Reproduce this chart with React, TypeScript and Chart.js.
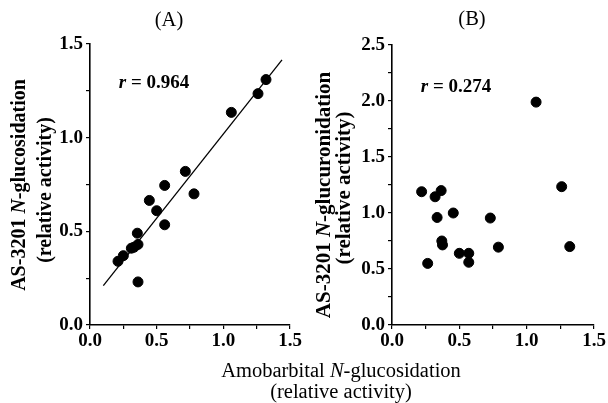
import React, { useEffect, useRef } from "react";
import { Chart, registerables } from "chart.js";

Chart.register(...registerables);

// Panel A data
const aX = [0.21, 0.25, 0.31, 0.33, 0.36, 0.355, 0.36, 0.445, 0.5, 0.56, 0.56, 0.715, 0.78, 1.06, 1.26, 1.32];
const aY = [0.34, 0.37, 0.41, 0.415, 0.43, 0.49, 0.23, 0.665, 0.61, 0.745, 0.535, 0.82, 0.7, 1.135, 1.235, 1.31];
const fitX = [0.1, 1.44];
const fitY = [0.21, 1.415];
// Panel B data
const bX = [0.22, 0.265, 0.32, 0.365, 0.335, 0.37, 0.375, 0.455, 0.5, 0.57, 0.57, 0.73, 0.79, 1.07, 1.26, 1.32];
const bY = [1.19, 0.55, 1.145, 1.2, 0.96, 0.75, 0.715, 1.0, 0.64, 0.64, 0.56, 0.955, 0.695, 1.99, 1.235, 0.7];

const xTicks = ["0.0", "0.5", "1.0", "1.5"];
const aYTicks = ["0.0", "0.5", "1.0", "1.5"];
const bYTicks = ["0.0", "0.5", "1.0", "1.5", "2.0", "2.5"];

const W = 608;
const H = 403;
const SERIF = '"Liberation Serif", "Times New Roman", serif';

type Seg = { t: string; f: string };

function drawRich(ctx: CanvasRenderingContext2D, segs: Seg[], cx: number, cy: number, rot = 0) {
  ctx.save();
  ctx.translate(cx, cy);
  ctx.rotate(rot);
  ctx.fillStyle = "#000";
  ctx.textBaseline = "middle";
  ctx.textAlign = "left";
  let total = 0;
  for (const s of segs) {
    ctx.font = s.f;
    total += ctx.measureText(s.t).width;
  }
  let x = -total / 2;
  for (const s of segs) {
    ctx.font = s.f;
    ctx.fillText(s.t, x, 0);
    x += ctx.measureText(s.t).width;
  }
  ctx.restore();
}

const B = `bold 19px ${SERIF}`;
const BI = `bold italic 19px ${SERIF}`;
const BA = `bold 20px ${SERIF}`;
const BIA = `bold italic 20px ${SERIF}`;
const BB = `bold 21px ${SERIF}`;
const BIB = `bold italic 21px ${SERIF}`;
const R = `20.5px ${SERIF}`;
const RI = `italic 20.5px ${SERIF}`;

function makeScale(min: number, max: number, labels: string[], axis: "x" | "y", size: number) {
  return {
    type: "linear" as const,
    min,
    max,
    afterFit: (s: any) => {
      if (axis === "y") s.width = size;
      else s.height = size;
    },
    border: { display: true, color: "#000", width: 1.6 },
    grid: { display: true, drawOnChartArea: false, drawTicks: true, tickLength: 4, color: "#000", lineWidth: 1.2 },
    ticks: {
      stepSize: 0.25,
      autoSkip: false,
      maxRotation: 0,
      padding: axis === "y" ? 3 : 1,
      color: "#000",
      font: { family: SERIF, size: 19, weight: "bold" as const },
      callback: (v: any) => {
        const n = Number(v);
        const idx = Math.round(n / 0.5);
        if (Math.abs(n - idx * 0.5) < 1e-6 && labels[idx] !== undefined) return labels[idx];
        return "";
      },
    },
  };
}

function pts(xs: number[], ys: number[]) {
  return xs.map((x, i) => ({ x, y: ys[i] }));
}

export default function App() {
  const refA = useRef<HTMLCanvasElement>(null);
  const refB = useRef<HTMLCanvasElement>(null);

  useEffect(() => {
    const textA = {
      id: "textA",
      afterDraw(chart: any) {
        const ctx = chart.ctx as CanvasRenderingContext2D;
        drawRich(ctx, [{ t: "(A)", f: R }], 169, 21);
        drawRich(ctx, [{ t: "r", f: BI }, { t: " = 0.964", f: B }], 154, 83);
        drawRich(ctx, [{ t: "AS-3201 ", f: BA }, { t: "N", f: BIA }, { t: "-glucosidation", f: BA }], 20, 185, -Math.PI / 2);
        drawRich(ctx, [{ t: "(relative activity)", f: BA }], 46, 190, -Math.PI / 2);
        drawRich(ctx, [{ t: "Amobarbital ", f: R }, { t: "N", f: RI }, { t: "-glucosidation", f: R }], 341, 372);
        drawRich(ctx, [{ t: "(relative activity)", f: R }], 341, 393);
      },
    };
    const textB = {
      id: "textB",
      afterDraw(chart: any) {
        const ctx = chart.ctx as CanvasRenderingContext2D;
        drawRich(ctx, [{ t: "(B)", f: R }], 472, 20);
        drawRich(ctx, [{ t: "r", f: BI }, { t: " = 0.274", f: B }], 456, 87);
        drawRich(ctx, [{ t: "AS-3201 ", f: BB }, { t: "N", f: BIB }, { t: "-glucuronidation", f: BB }], 325, 195, -Math.PI / 2);
        drawRich(ctx, [{ t: "(relative activity)", f: BB }], 345, 188, -Math.PI / 2);
      },
    };

    const pointDs = (data: any) => ({
      type: "scatter" as const,
      data,
      backgroundColor: "#000",
      borderColor: "#000",
      pointRadius: 5,
      pointHoverRadius: 5,
      showLine: false,
    });

    const chartA = new Chart(refA.current!, {
      type: "scatter",
      data: {
        datasets: [
          pointDs(pts(aX, aY)),
          {
            type: "scatter",
            data: pts(fitX, fitY),
            showLine: true,
            borderColor: "#000",
            borderWidth: 1.3,
            pointRadius: 0,
            fill: false,
          } as any,
        ],
      },
      options: {
        responsive: false,
        animation: false,
        devicePixelRatio: 1,
        layout: { padding: { left: 90 - 40, right: W - 290, top: 44, bottom: H - 325 - 40 } },
        plugins: { legend: { display: false }, tooltip: { enabled: false } },
        scales: {
          x: makeScale(0, 1.5, xTicks, "x", 40),
          y: makeScale(0, 1.5, aYTicks, "y", 40),
        },
      } as any,
      plugins: [textA],
    });

    const chartB = new Chart(refB.current!, {
      type: "scatter",
      data: { datasets: [pointDs(pts(bX, bY))] },
      options: {
        responsive: false,
        animation: false,
        devicePixelRatio: 1,
        layout: { padding: { left: 392 - 40, right: W - 594, top: 45, bottom: H - 325 - 40 } },
        plugins: { legend: { display: false }, tooltip: { enabled: false } },
        scales: {
          x: makeScale(0, 1.5, xTicks, "x", 40),
          y: makeScale(0, 2.5, bYTicks, "y", 40),
        },
      } as any,
      plugins: [textB],
    });

    return () => {
      chartA.destroy();
      chartB.destroy();
    };
  }, []);

  const cs: React.CSSProperties = { position: "absolute", left: 0, top: 0, width: W, height: H };
  return (
    <div style={{ position: "absolute", left: 0, top: 0, width: W, height: H, background: "#fff" }}>
      <canvas ref={refA} width={W} height={H} style={cs} />
      <canvas ref={refB} width={W} height={H} style={cs} />
    </div>
  );
}
